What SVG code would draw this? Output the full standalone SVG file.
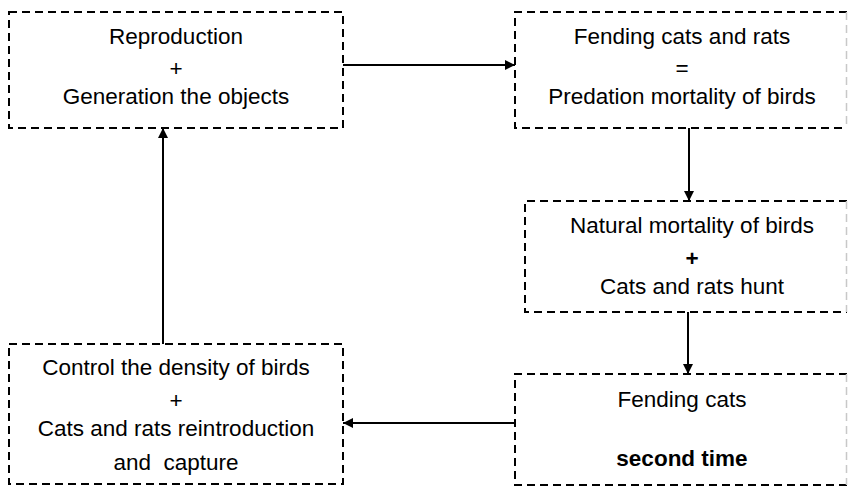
<svg xmlns="http://www.w3.org/2000/svg" width="848" height="488" viewBox="0 0 848 488">
<style>
.box{fill:none;stroke:#000;stroke-width:2;stroke-dasharray:8 5}
.edge{fill:none;stroke:#c8c8c8;stroke-width:1.5;stroke-dasharray:8 5}
.t{font-family:"Liberation Sans",Arial,sans-serif;font-size:22.5px;fill:#000;text-anchor:middle}
.b{font-weight:bold}
.c{fill:none;stroke:#000;stroke-width:2}
</style>
<defs>
<marker id="ah" markerWidth="10" markerHeight="10" refX="10" refY="5" orient="auto" markerUnits="userSpaceOnUse">
<path d="M0,0 L10,5 L0,10 Z" fill="#000"/>
</marker>
</defs>
<rect width="848" height="488" fill="#fff"/>
<g id="n1">
<rect class="box" x="9" y="12" width="334" height="116"/>
<text class="t" x="176" y="44">Reproduction</text>
<text class="t" x="176" y="76">+</text>
<text class="t" x="176" y="104">Generation the objects</text>
</g>
<g id="n2">
<path class="box" d="M847,12 H515 V128 H847"/>
<line class="edge" x1="846.5" y1="12" x2="846.5" y2="128"/>
<text class="t" x="682" y="44">Fending cats and rats</text>
<text class="t" x="682" y="76">=</text>
<text class="t" x="682" y="104">Predation mortality of birds</text>
</g>
<g id="n3">
<path class="box" d="M847,201 H525 V312 H847"/>
<line class="edge" x1="846.5" y1="201" x2="846.5" y2="312"/>
<text class="t" x="692" y="233">Natural mortality of birds</text>
<text class="t b" x="692" y="266">+</text>
<text class="t" x="692" y="294">Cats and rats hunt</text>
</g>
<g id="n4">
<rect class="box" x="9" y="344" width="334" height="140"/>
<text class="t" x="176" y="375">Control the density of birds</text>
<text class="t" x="176" y="408">+</text>
<text class="t" x="176" y="436">Cats and rats reintroduction</text>
<text class="t" x="176" y="470" xml:space="preserve">and  capture</text>
</g>
<g id="n5">
<path class="box" d="M847,374 H515 V485 H847"/>
<line class="edge" x1="846.5" y1="374" x2="846.5" y2="485"/>
<text class="t" x="682" y="407">Fending cats</text>
<text class="t b" x="682" y="466">second time</text>
</g>
<g id="connectors">
<line class="c" x1="343" y1="65" x2="515" y2="65" marker-end="url(#ah)"/>
<line class="c" x1="689" y1="128" x2="689" y2="201" marker-end="url(#ah)"/>
<line class="c" x1="688" y1="312" x2="688" y2="374" marker-end="url(#ah)"/>
<line class="c" x1="515" y1="423" x2="343" y2="423" marker-end="url(#ah)"/>
<line class="c" x1="163" y1="344" x2="163" y2="128" marker-end="url(#ah)"/>
</g>
</svg>
